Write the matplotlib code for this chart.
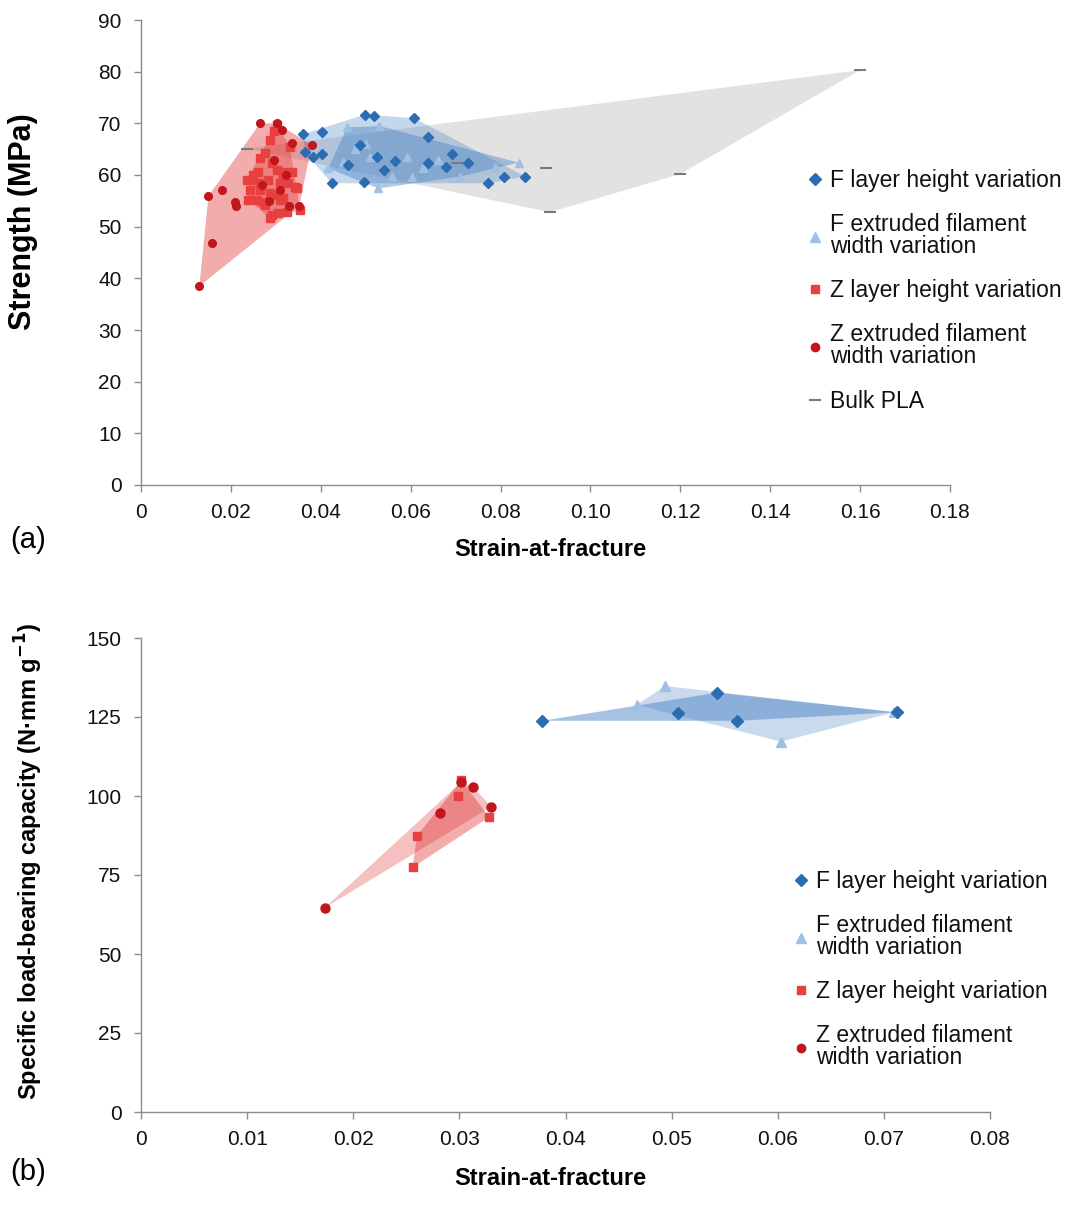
import numpy as np
import matplotlib
matplotlib.use("Agg")
import matplotlib.pyplot as plt
from matplotlib.lines import Line2D

plt.rcParams['font.family'] = ['Liberation Sans', 'DejaVu Sans']

# ---- panel (a): strength vs strain-at-fracture ----
a_f_layer_x = [0.0498, 0.0518, 0.0608, 0.0638, 0.0361, 0.0402, 0.0364, 0.0383, 0.0402,
               0.0424, 0.0487, 0.0496, 0.0524, 0.0565, 0.0639, 0.0679, 0.0692, 0.0727,
               0.0773, 0.0808, 0.0855, 0.0460, 0.0540]
a_f_layer_y = [71.7, 71.5, 71.0, 67.4, 67.9, 68.4, 64.5, 63.5, 64.0,
               58.4, 65.8, 58.7, 63.5, 62.7, 62.4, 61.6, 64.1, 62.3,
               58.4, 59.7, 59.7, 62.0, 61.0]
a_f_width_x = [0.0458, 0.0530, 0.0840, 0.0528, 0.0417, 0.0450, 0.0510, 0.0591, 0.0558,
               0.0602, 0.0710, 0.0788, 0.0627, 0.0476, 0.0500, 0.0660]
a_f_width_y = [69.2, 69.5, 62.4, 57.4, 61.3, 62.6, 63.5, 63.5, 59.8,
               59.7, 59.7, 61.6, 61.3, 65.1, 66.0, 63.0]
a_z_layer_x = [0.0302, 0.0287, 0.0235, 0.0239, 0.0287, 0.0354, 0.0346, 0.0331, 0.0265,
               0.0276, 0.0302, 0.0317, 0.0335, 0.0250, 0.0265, 0.0283, 0.0309, 0.0328,
               0.0243, 0.0265, 0.0287, 0.0302, 0.0317, 0.0257, 0.0272, 0.0291, 0.0305,
               0.0324, 0.0276, 0.0309, 0.0261, 0.0291, 0.0317, 0.0343, 0.0250, 0.0296]
a_z_layer_y = [69.7, 66.8, 59.0, 55.2, 51.6, 53.2, 57.4, 65.5, 63.2,
               64.2, 61.0, 60.6, 60.6, 59.0, 58.4, 59.0, 58.4, 58.4,
               57.1, 57.1, 56.5, 56.1, 55.5, 55.2, 54.8, 52.3, 52.6,
               52.9, 54.2, 55.2, 60.6, 62.3, 59.4, 57.7, 60.0, 68.5]
a_z_width_x = [0.0150, 0.0181, 0.0209, 0.0211, 0.0159, 0.0130, 0.0265, 0.0302, 0.0313,
               0.0380, 0.0335, 0.0352, 0.0295, 0.0270, 0.0310, 0.0330, 0.0322, 0.0285]
a_z_width_y = [55.9, 57.1, 54.8, 54.0, 46.8, 38.5, 70.0, 70.0, 68.7,
               65.8, 66.1, 54.0, 63.0, 58.0, 57.0, 54.0, 60.0, 55.0]
a_bulk_x = [0.0235, 0.0702, 0.0901, 0.0910, 0.1200, 0.1600]
a_bulk_y = [65.1, 62.3, 61.3, 52.8, 60.2, 80.3]

# ---- panel (b): specific load-bearing capacity vs strain-at-fracture ----
b_f_layer_x = [0.0378, 0.0506, 0.0543, 0.0562, 0.0712]
b_f_layer_y = [123.8, 126.2, 132.7, 123.8, 126.5]
b_f_width_x = [0.0494, 0.0603, 0.0467, 0.0505, 0.0710]
b_f_width_y = [134.8, 117.2, 128.8, 126.0, 126.5]
b_z_layer_x = [0.0299, 0.0260, 0.0256, 0.0328, 0.0302]
b_z_layer_y = [100.0, 87.4, 77.4, 93.3, 105.0]
b_z_width_x = [0.0302, 0.0313, 0.0330, 0.0282, 0.0173]
b_z_width_y = [104.5, 102.8, 96.6, 94.5, 64.6]

labels = ['F layer height variation', 'F extruded filament\nwidth variation',
          'Z layer height variation', 'Z extruded filament\nwidth variation', 'Bulk PLA']

c_f_layer = '#2b6cb2'
c_f_width = '#9fc0e4'
c_z_layer = '#e8403f'
c_z_width = '#c0161c'
c_bulk = '#7a7a7a'
c_blue_fill = '#4f86c6'
c_red_fill = '#e03030'


def hull(xs, ys):
    pts = sorted(set(zip(xs, ys)))

    def cross(o, a, b):
        return (a[0] - o[0]) * (b[1] - o[1]) - (a[1] - o[1]) * (b[0] - o[0])
    lower, upper = [], []
    for p in pts:
        while len(lower) >= 2 and cross(lower[-2], lower[-1], p) <= 0:
            lower.pop()
        lower.append(p)
    for p in reversed(pts):
        while len(upper) >= 2 and cross(upper[-2], upper[-1], p) <= 0:
            upper.pop()
        upper.append(p)
    h = lower[:-1] + upper[:-1]
    return [p[0] for p in h], [p[1] for p in h]


def style_axes(ax):
    for s in ['top', 'right']:
        ax.spines[s].set_visible(False)
    for s in ['left', 'bottom']:
        ax.spines[s].set_color('#8c8c8c')
        ax.spines[s].set_linewidth(1.0)
    ax.tick_params(direction='out', length=5, width=1, color='#8c8c8c',
                   labelsize=15, labelcolor='#111111')
    ax.tick_params(axis='x', pad=8)
    ax.tick_params(axis='y', pad=9)


def legend_handles(with_bulk):
    h = [Line2D([], [], ls='none', marker='D', ms=6, color=c_f_layer),
         Line2D([], [], ls='none', marker='^', ms=7, color=c_f_width),
         Line2D([], [], ls='none', marker='s', ms=6, color=c_z_layer),
         Line2D([], [], ls='none', marker='o', ms=6, color=c_z_width)]
    if with_bulk:
        h.append(Line2D([], [], ls='none', marker='_', ms=9, mew=1.5, color=c_bulk))
    return h


fig = plt.figure(figsize=(10.7, 12.2), dpi=100)

# panel (a)
ax1 = fig.add_axes([141 / 1070, 1 - 485 / 1220, 809 / 1070, 465 / 1220])
hx, hy = hull(a_bulk_x, a_bulk_y)
ax1.fill(hx, hy, color='#e2e2e2', zorder=1, lw=0)
hx, hy = hull(a_f_layer_x, a_f_layer_y)
ax1.fill(hx, hy, color=c_blue_fill, alpha=0.33, zorder=2, lw=0)
hx, hy = hull(a_f_width_x, a_f_width_y)
ax1.fill(hx, hy, color=c_blue_fill, alpha=0.45, zorder=2, lw=0)
hx, hy = hull(a_z_width_x, a_z_width_y)
ax1.fill(hx, hy, color=c_red_fill, alpha=0.4, zorder=3, lw=0)
hx, hy = hull(a_z_layer_x, a_z_layer_y)
ax1.fill(hx, hy, color=c_red_fill, alpha=0.35, zorder=3, lw=0)
ax1.plot(a_bulk_x, a_bulk_y, ls='none', marker='_', ms=9, mew=1.5, color=c_bulk, zorder=4)
ax1.plot(a_f_width_x, a_f_width_y, ls='none', marker='^', ms=6, color=c_f_width, zorder=4)
ax1.plot(a_f_layer_x, a_f_layer_y, ls='none', marker='D', ms=5.5, color=c_f_layer, zorder=5)
ax1.plot(a_z_layer_x, a_z_layer_y, ls='none', marker='s', ms=6, color=c_z_layer, zorder=5)
ax1.plot(a_z_width_x, a_z_width_y, ls='none', marker='o', ms=5.5, color=c_z_width, zorder=6)
ax1.set_xlim(0, 0.18)
ax1.set_ylim(0, 90)
ax1.set_xticks(np.arange(0, 0.181, 0.02))
ax1.set_xticklabels(['0'] + ['%.2f' % v for v in np.arange(0.02, 0.181, 0.02)])
ax1.set_yticks(np.arange(0, 91, 10))
style_axes(ax1)
ax1.set_xlabel('Strain-at-fracture', fontsize=17, fontweight='bold')
ax1.xaxis.set_label_coords(0.506, -0.115)
ax1.set_ylabel('Strength (MPa)', fontsize=22, fontweight='bold')
ax1.yaxis.set_label_coords(-0.127, 0.566)
leg1 = ax1.legend(legend_handles(True), labels, loc='upper left',
                  bbox_to_anchor=(808 / 1070, 1 - 169 / 1220), bbox_transform=fig.transFigure,
                  frameon=False, fontsize=16.5, handlelength=0.6, handletextpad=0.35,
                  labelspacing=0.92, borderpad=0, borderaxespad=0)
for t in leg1.get_texts():
    t.set_linespacing(0.95)
    t.set_color('#111111')

# panel (b)
ax2 = fig.add_axes([141 / 1070, 1 - 1112 / 1220, 849 / 1070, 474 / 1220])
hx, hy = hull(b_f_width_x, b_f_width_y)
ax2.fill(hx, hy, color=c_blue_fill, alpha=0.3, zorder=2, lw=0)
hx, hy = hull(b_f_layer_x, b_f_layer_y)
ax2.fill(hx, hy, color=c_blue_fill, alpha=0.5, zorder=2, lw=0)
hx, hy = hull(b_z_width_x, b_z_width_y)
ax2.fill(hx, hy, color=c_red_fill, alpha=0.3, zorder=3, lw=0)
hx, hy = hull(b_z_layer_x, b_z_layer_y)
ax2.fill(hx, hy, color=c_red_fill, alpha=0.4, zorder=3, lw=0)
ax2.plot(b_f_width_x, b_f_width_y, ls='none', marker='^', ms=7, color=c_f_width, zorder=4)
ax2.plot(b_f_layer_x, b_f_layer_y, ls='none', marker='D', ms=6.5, color=c_f_layer, zorder=5)
ax2.plot(b_z_layer_x, b_z_layer_y, ls='none', marker='s', ms=6, color=c_z_layer, zorder=5)
ax2.plot(b_z_width_x, b_z_width_y, ls='none', marker='o', ms=6.5, color=c_z_width, zorder=6)
ax2.set_xlim(0, 0.08)
ax2.set_ylim(0, 150)
ax2.set_xticks(np.arange(0, 0.081, 0.01))
ax2.set_xticklabels(['0'] + ['%.2f' % v for v in np.arange(0.01, 0.081, 0.01)])
ax2.set_yticks(np.arange(0, 151, 25))
style_axes(ax2)
ax2.set_xlabel('Strain-at-fracture', fontsize=17, fontweight='bold')
ax2.xaxis.set_label_coords(0.482, -0.115)
ax2.set_ylabel('Specific load-bearing capacity (N·mm g$^{\\mathbf{-1}}$)',
               fontsize=17, fontweight='bold')
ax2.yaxis.set_label_coords(-0.113, 0.53)
leg2 = ax2.legend(legend_handles(False), labels[:4], loc='upper left',
                  bbox_to_anchor=(794 / 1070, 1 - 870 / 1220), bbox_transform=fig.transFigure,
                  frameon=False, fontsize=16.5, handlelength=0.6, handletextpad=0.35,
                  labelspacing=0.92, borderpad=0, borderaxespad=0)
for t in leg2.get_texts():
    t.set_linespacing(0.95)
    t.set_color('#111111')

fig.text(10 / 1070, 1 - 540 / 1220, '(a)', fontsize=21, va='center', ha='left')
fig.text(10 / 1070, 1 - 1172 / 1220, '(b)', fontsize=21, va='center', ha='left')

fig.savefig('out.png', dpi=100)
